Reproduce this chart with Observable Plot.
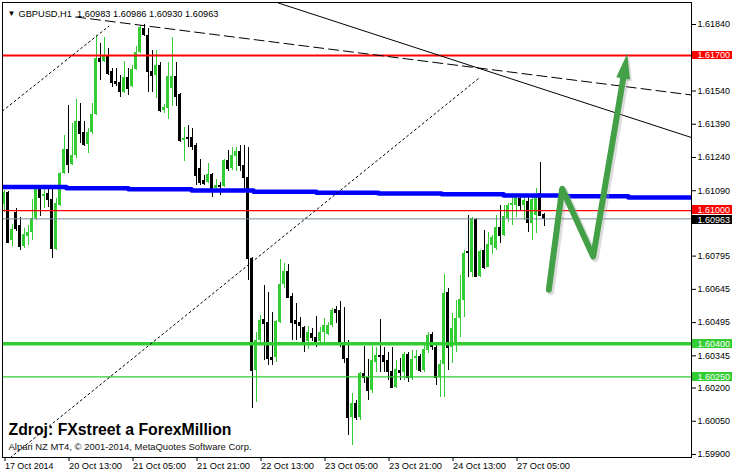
<!DOCTYPE html>
<html><head><meta charset="utf-8">
<script src="https://cdn.jsdelivr.net/npm/d3@7"></script>
<script src="https://cdn.jsdelivr.net/npm/@observablehq/plot@0.6"></script>
<style>
html,body{margin:0;padding:0;background:#fff;}
#chart svg{display:block;}
</style></head><body><div id="chart"></div>
<script>
// ---- candle data (GBPUSD H1), bar index 0..135 ----
const open = [1.61028,1.61082,1.60865,1.60992,1.60933,1.60838,1.60884,1.60902,1.60965,1.61100,
1.61064,1.61078,1.61050,1.60825,1.61023,1.61168,1.61276,1.61208,1.61249,1.61402,
1.61353,1.61299,1.61353,1.61434,1.61687,1.61673,1.61700,1.61628,1.61583,1.61578,
1.61533,1.61601,1.61560,1.61637,1.61714,1.61822,1.61790,1.61628,1.61610,1.61655,
1.61452,1.61461,1.61551,1.61605,1.61524,1.61317,1.61330,1.61330,1.61294,1.61190,
1.61136,1.61127,1.61163,1.61100,1.61114,1.61109,1.61226,1.61190,1.61244,1.61267,
1.61204,1.61150,1.60784,1.60279,1.60414,1.60509,1.60496,1.60338,1.60338,1.60496,
1.60667,1.60726,1.60613,1.60505,1.60496,1.60473,1.60410,1.60446,1.60428,1.60410,
1.60450,1.60441,1.60482,1.60554,1.60550,1.60405,1.60333,1.60067,1.60130,1.60067,
1.60265,1.60247,1.60189,1.60315,1.60347,1.60347,1.60324,1.60274,1.60202,1.60279,
1.60270,1.60351,1.60243,1.60333,1.60342,1.60279,1.60369,1.60441,1.60383,1.60247,
1.60306,1.60631,1.60383,1.60392,1.60514,1.60595,1.60816,1.60721,1.60960,1.60703,
1.60820,1.60744,1.60843,1.60829,1.60924,1.60888,1.60965,1.61023,1.61023,1.61055,
1.61023,1.61041,1.60942,1.60979,1.61078,1.60983];
const high = [1.61091,1.61087,1.60938,1.61010,1.60969,1.60920,1.60933,1.61050,1.61114,1.61105,
1.61100,1.61100,1.61100,1.61055,1.61172,1.61339,1.61475,1.61393,1.61502,1.61484,
1.61402,1.61371,1.61484,1.61790,1.61754,1.61781,1.61732,1.61641,1.61641,1.61610,
1.61673,1.61641,1.61655,1.61741,1.61836,1.61840,1.61822,1.61723,1.61723,1.61669,
1.61479,1.61669,1.61781,1.61669,1.61529,1.61375,1.61384,1.61371,1.61303,1.61231,
1.61159,1.61213,1.61168,1.61141,1.61127,1.61231,1.61272,1.61285,1.61285,1.61294,
1.61294,1.61285,1.60789,1.60450,1.60527,1.60662,1.60631,1.60541,1.60505,1.60780,
1.60762,1.60757,1.60626,1.60581,1.60518,1.60477,1.60477,1.60468,1.60523,1.60473,
1.60514,1.60496,1.60559,1.60568,1.60590,1.60563,1.60414,1.60175,1.60144,1.60270,
1.60387,1.60329,1.60387,1.60383,1.60509,1.60383,1.60360,1.60383,1.60324,1.60333,
1.60360,1.60360,1.60369,1.60369,1.60351,1.60401,1.60450,1.60450,1.60401,1.60324,
1.60712,1.60649,1.60536,1.60595,1.60707,1.60820,1.60979,1.60969,1.60965,1.60820,
1.60911,1.60902,1.60888,1.60979,1.61023,1.61023,1.61032,1.61078,1.61078,1.61059,
1.61059,1.61059,1.61059,1.61100,1.61217,1.60986];
const low = [1.60992,1.60852,1.60838,1.60906,1.60820,1.60829,1.60843,1.60865,1.60956,1.60974,
1.61010,1.61014,1.60784,1.60820,1.61019,1.61163,1.61168,1.61204,1.61235,1.61303,
1.61290,1.61258,1.61344,1.61429,1.61587,1.61669,1.61610,1.61556,1.61560,1.61511,
1.61529,1.61520,1.61556,1.61633,1.61709,1.61786,1.61533,1.61533,1.61506,1.61443,
1.61438,1.61411,1.61470,1.61470,1.61308,1.61222,1.61285,1.61272,1.61114,1.61114,
1.61114,1.61123,1.61059,1.61087,1.61068,1.61105,1.61177,1.61181,1.61177,1.61177,
1.61091,1.60685,1.60107,1.60135,1.60392,1.60324,1.60301,1.60301,1.60315,1.60491,
1.60649,1.60604,1.60414,1.60414,1.60423,1.60360,1.60374,1.60410,1.60383,1.60401,
1.60401,1.60437,1.60473,1.60491,1.60383,1.60310,1.59986,1.59940,1.60053,1.60053,
1.60220,1.60144,1.60175,1.60270,1.60270,1.60270,1.60234,1.60198,1.60198,1.60234,
1.60234,1.60225,1.60234,1.60279,1.60270,1.60270,1.60356,1.60369,1.60211,1.60157,
1.60157,1.60279,1.60310,1.60360,1.60428,1.60518,1.60699,1.60699,1.60699,1.60699,
1.60735,1.60744,1.60802,1.60820,1.60852,1.60884,1.60947,1.60933,1.60969,1.61001,
1.60956,1.60902,1.60865,1.60897,1.60979,1.60930];
const close = [1.61082,1.60856,1.60915,1.60920,1.60838,1.60893,1.60902,1.60965,1.61096,1.61059,
1.61073,1.61050,1.60829,1.61032,1.61168,1.61276,1.61208,1.61249,1.61402,1.61348,
1.61299,1.61353,1.61434,1.61687,1.61673,1.61700,1.61619,1.61578,1.61574,1.61538,
1.61601,1.61551,1.61637,1.61714,1.61827,1.61795,1.61628,1.61610,1.61655,1.61452,
1.61466,1.61605,1.61605,1.61515,1.61317,1.61326,1.61326,1.61290,1.61159,1.61127,
1.61123,1.61163,1.61100,1.61114,1.61109,1.61226,1.61190,1.61249,1.61267,1.61204,
1.61150,1.60784,1.60279,1.60414,1.60505,1.60491,1.60333,1.60329,1.60500,1.60667,
1.60726,1.60608,1.60496,1.60491,1.60482,1.60410,1.60450,1.60428,1.60405,1.60450,
1.60482,1.60482,1.60550,1.60541,1.60405,1.60333,1.60067,1.60130,1.60067,1.60265,
1.60247,1.60189,1.60324,1.60347,1.60342,1.60320,1.60274,1.60202,1.60283,1.60270,
1.60351,1.60247,1.60329,1.60342,1.60279,1.60374,1.60437,1.60387,1.60247,1.60306,
1.60626,1.60383,1.60468,1.60514,1.60599,1.60807,1.60811,1.60965,1.60703,1.60816,
1.60744,1.60847,1.60879,1.60924,1.60888,1.60974,1.61023,1.61032,1.61059,1.61023,
1.61046,1.60947,1.61050,1.61059,1.60979,1.60963];

// ---- axis ticks ----
const xTickBars = [0,16,32,48,64,80,96,112,128];
const xTickLabels = ["17 Oct 2014","20 Oct 13:00","21 Oct 05:00","21 Oct 21:00","22 Oct 13:00","23 Oct 05:00","23 Oct 21:00","24 Oct 13:00","27 Oct 05:00"];
const yTicks = [1.61840,1.61540,1.61390,1.61240,1.61090,1.60795,1.60645,1.60495,1.60345,1.60200,1.60050,1.59900];

// ---- horizontal levels ----
const resistLevels = [1.61700, 1.61000];
const supportLevels = [1.60400, 1.60250];

// ---- blue stepped line (bar index where step starts, value) ----
const blueBars = [-0.375,15.6,31.1,46.9,62.4,78.1,93.6,109.4,124.9,140.6,156.1,171.875];
const blueValues = [1.61107,1.61101,1.61097,1.61091,1.61085,1.61081,1.61077,1.61074,1.61068,1.61065,1.61059,1.61059];

// ---- trend lines (bar index, price endpoints) ----
const chanUpperBars = [-0.375, 26.2];   const chanUpperPrices = [1.61450, 1.61832];
const chanLowerBars = [1.6, 118.6];     const chanLowerPrices = [1.59886, 1.61596];
const dashBars = [17.9, 171.875];       const dashPrices = [1.61874, 1.61522];
const solidBars = [68.6, 171.875];      const solidPrices = [1.61937, 1.61330];

// ---- projected path arrow ----
const arrowBars = [136.2, 139.55, 147.3, 154.8];
const arrowPrices = [1.60643, 1.61099, 1.60793, 1.61596];
const arrowHeadBar = [155.15];
const arrowHeadPrice = [1.61637];

// ---- texts ----
const symbolName = "GBPUSD,H1";
const sourceText = "Zdroj: FXstreet a ForexMillion";
const copyrightText = "Alpari NZ MT4, \u00a9 2001-2014, MetaQuotes Software Corp.";

// ================= build =================
const xMin = -0.375, xMax = 171.875;
const yMin = 1.598863, yMax = 1.619393;
const pxPerPrice = 455 / (yMax - yMin);
const GREEN = "#32cd32", RED = "#ff0000", BLUE = "#0000ff", GRAY = "#778899", ARROW = "#43a047";
const FONT = "Liberation Sans, Arial, sans-serif";

const bars = d3.range(open.length).map(i => ({i, o: open[i], h: high[i], l: low[i], c: close[i], up: close[i] > open[i]}));
const last = bars[bars.length - 1];
const fmt = d3.format(".5f");
const titleText = symbolName + "\u00a0\u00a0" + [last.o, last.h, last.l, last.c].map(fmt).join(" ");

const toPts = (xs, ys) => xs.map((x, k) => ({x, y: ys[k]}));
const blue = toPts(blueBars, blueValues);
const arrow = toPts(arrowBars, arrowPrices);
const head = toPts(arrowHeadBar, arrowHeadPrice);

// price tags on the right axis (nudge = pixel offset to keep adjacent tags apart)
const priceTags = [
  {v: resistLevels[0], bg: RED, nudge: 0},
  {v: resistLevels[1], bg: RED, nudge: -0.8},
  {v: last.c, bg: "#000000", nudge: 0.8},
  {v: supportLevels[0], bg: GREEN, nudge: 0},
  {v: supportLevels[1], bg: GREEN, nudge: 0}
];
const halfTag = 4.4 / pxPerPrice;
const tagMarks = priceTags.flatMap(t => [
  Plot.rect([t], {x1: xMax + 0.3, x2: xMax + 10.3, y1: d => d.v - halfTag, y2: d => d.v + halfTag, fill: t.bg, dy: t.nudge, shapeRendering: "crispEdges"}),
  Plot.text([t], {x: xMax + 1.5, y: "v", text: d => fmt(d.v), fill: "#fff", textAnchor: "start", fontSize: 9, dy: t.nudge})
]);

const headSymbol = {draw(ctx) { ctx.moveTo(0, -16); ctx.lineTo(7, 9); ctx.lineTo(-7, 9); ctx.closePath(); }};

const chart = Plot.plot({
  width: 734, height: 475,
  marginLeft: 2, marginRight: 43, marginTop: 2, marginBottom: 18,
  x: {domain: [xMin, xMax]},
  y: {domain: [yMin, yMax]},
  color: {type: "identity"},
  style: {background: "#fff", fontFamily: FONT, fontSize: "9px", color: "#000", overflow: "visible"},
  marks: [
    Plot.axisY(yTicks, {anchor: "right", tickSize: 4, tickPadding: 2, tickFormat: fmt, label: null, fontSize: 9, stroke: "#000"}),
    Plot.axisX(xTickBars, {anchor: "bottom", tickSize: 4, tickPadding: 1, textAnchor: "start", dx: 1,
      tickFormat: d => xTickLabels[xTickBars.indexOf(d)], label: null, fontSize: 9, stroke: "#000"}),
    // candles
    Plot.ruleX(bars, {x: "i", y1: "l", y2: "h", stroke: d => d.up ? GREEN : "#000", strokeWidth: 1, clip: true, shapeRendering: "crispEdges"}),
    Plot.rect(bars, {x1: d => d.i - 0.375, x2: d => d.i + 0.375,
      y1: d => Math.min(d.o, d.c), y2: d => Math.max(d.o, d.c),
      fill: d => d.up ? GREEN : "#000", clip: true, shapeRendering: "crispEdges"}),
    Plot.ruleY(bars, {y: "c", x1: d => d.i - 0.375, x2: d => d.i + 0.375, stroke: d => d.up ? GREEN : "#000", clip: true, shapeRendering: "crispEdges"}),
    // levels
    Plot.ruleY([resistLevels[0]], {stroke: RED, strokeWidth: 2}),
    Plot.ruleY([resistLevels[1]], {stroke: RED, strokeWidth: 1.2}),
    Plot.ruleY([last.c], {stroke: GRAY, strokeWidth: 1}),
    Plot.ruleY([supportLevels[0]], {stroke: GREEN, strokeWidth: 3.5}),
    Plot.ruleY([supportLevels[1]], {stroke: GREEN, strokeWidth: 1.2}),
    // blue stepped line
    Plot.line(blue, {x: "x", y: "y", curve: "step-after", stroke: BLUE, strokeWidth: 4.5, clip: true}),
    // trend lines
    Plot.line(toPts(chanUpperBars, chanUpperPrices), {x: "x", y: "y", stroke: "#000", strokeWidth: 1, strokeDasharray: "2,3", clip: true}),
    Plot.line(toPts(chanLowerBars, chanLowerPrices), {x: "x", y: "y", stroke: "#000", strokeWidth: 1, strokeDasharray: "2,3", clip: true}),
    Plot.line(toPts(dashBars, dashPrices), {x: "x", y: "y", stroke: "#000", strokeWidth: 1, strokeDasharray: "10,5", clip: true}),
    Plot.line(toPts(solidBars, solidPrices), {x: "x", y: "y", stroke: "#000", strokeWidth: 1, clip: true}),
    // arrow (shadow + body + head)
    Plot.line(arrow, {x: "x", y: "y", stroke: "#9a9a9a", strokeOpacity: 0.35, strokeWidth: 7, dx: 2, dy: 2, strokeLinejoin: "round", strokeLinecap: "round"}),
    Plot.dot(head, {x: "x", y: "y", symbol: headSymbol, rotate: 9.5, fill: "#9a9a9a", fillOpacity: 0.35, dx: 2, dy: 2, stroke: null}),
    Plot.line(arrow, {x: "x", y: "y", stroke: ARROW, strokeWidth: 6, strokeLinejoin: "round", strokeLinecap: "round"}),
    Plot.dot(head, {x: "x", y: "y", symbol: headSymbol, rotate: 9.5, fill: ARROW, stroke: null}),
    // frame
    Plot.frame({stroke: "#000", strokeWidth: 1, shapeRendering: "crispEdges"}),
    // price tags
    ...tagMarks,
    // header & captions
    Plot.text(["\u25BC"], {frameAnchor: "top-left", dx: 5, dy: 8, text: d => d, fontSize: 8, textAnchor: "start", fill: "#000"}),
    Plot.text([titleText], {frameAnchor: "top-left", dx: 16, dy: 8, text: d => d, fontSize: 9.5, textAnchor: "start", fill: "#000"}),
    Plot.text([sourceText], {frameAnchor: "bottom-left", dx: 6, dy: -23, text: d => d, fontSize: 16, fontWeight: "bold", textAnchor: "start", fill: "#000"}),
    Plot.text([copyrightText], {frameAnchor: "bottom-left", dx: 6, dy: -8, text: d => d, fontSize: 9.5, textAnchor: "start", fill: "#111"})
  ]
});
document.getElementById("chart").appendChild(chart);

// lock text widths to those measured on the reference
const allTexts = Array.from(chart.querySelectorAll("text"));
function lockWidth(match, width) {
  allTexts.filter(n => match(n.textContent)).forEach(n => {
    n.setAttribute("textLength", width);
    n.setAttribute("lengthAdjust", "spacingAndGlyphs");
  });
}
const isPrice = s => /^\d\.\d{5}$/.test(s);
lockWidth(s => s === titleText, 200);
lockWidth(isPrice, 32.5);
lockWidth(s => s === xTickLabels[0], 48.5);
lockWidth(s => xTickLabels.indexOf(s) > 0, 53);
lockWidth(s => s === sourceText, 223);
lockWidth(s => s === copyrightText, 243);
</script>
</body></html>
